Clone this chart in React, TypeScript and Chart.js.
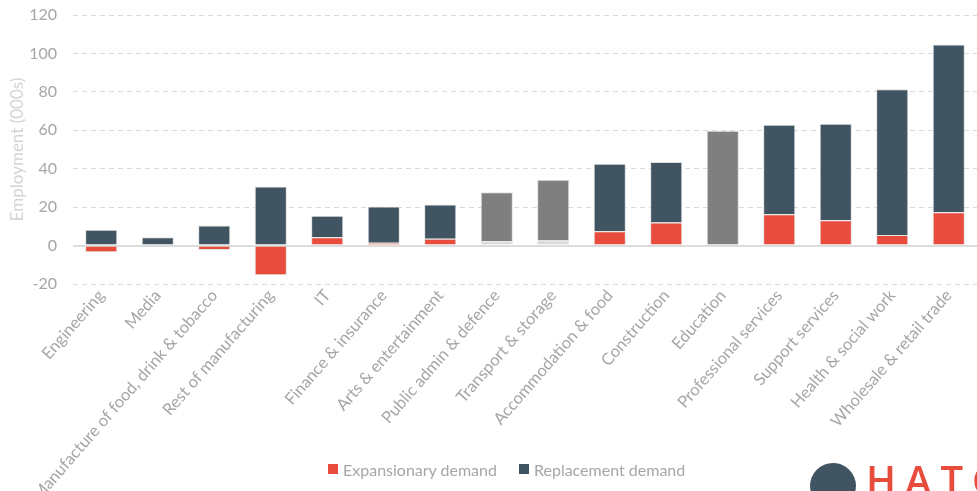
import React, { useEffect, useRef } from "react";
import { Chart, registerables } from "chart.js";

Chart.register(...registerables);

const categories = [
  "Engineering",
  "Media",
  "Manufacture of food, drink & tobacco",
  "Rest of manufacturing",
  "IT",
  "Finance & insurance",
  "Arts & entertainment",
  "Public admin & defence",
  "Transport & storage",
  "Accommodation & food",
  "Construction",
  "Education",
  "Professional services",
  "Support services",
  "Health & social work",
  "Wholesale & retail trade",
];

const expansionary = [-3.5, 0.5, -2.3, -15.5, 4.3, 1.5, 3.5, 2.3, 2.6, 7.5, 12.0, 0.5, 16.3, 13.2, 5.5, 17.4];
const replacement = [8.2, 3.8, 10.4, 30.8, 11.2, 18.8, 17.9, 25.5, 31.7, 35.1, 31.5, 59.3, 46.6, 50.2, 75.9, 87.2];
const greyed = ["Public admin & defence", "Transport & storage", "Education"];

const yTicks = [-20, 0, 20, 40, 60, 80, 100, 120];

const RED = "#e84c3d";
const SLATE = "#415462";
const GREY = "#7f7f7f";
const LIGHTGREY = "#d9d9d9";
const FONT = "Lato";

export default function App() {
  const ref = useRef<HTMLCanvasElement>(null);

  useEffect(() => {
    if (!ref.current) return;
    const isGrey = (i: number) => greyed.includes(categories[i]);
    const chart = new Chart(ref.current, {
      type: "bar",
      data: {
        labels: categories,
        datasets: [
          {
            label: "Expansionary demand",
            data: expansionary,
            backgroundColor: categories.map((_, i) => (isGrey(i) ? LIGHTGREY : RED)),
            borderColor: "rgba(225,225,225,1)",
            borderWidth: 1,
            barPercentage: 0.57,
            categoryPercentage: 1,
          },
          {
            label: "Replacement demand",
            data: replacement,
            backgroundColor: categories.map((_, i) => (isGrey(i) ? GREY : SLATE)),
            borderColor: "rgba(225,225,225,1)",
            borderWidth: 1,
            barPercentage: 0.57,
            categoryPercentage: 1,
          },
        ],
      },
      options: {
        responsive: true,
        maintainAspectRatio: false,
        animation: false,
        layout: { padding: { top: 15, right: 0, left: 0, bottom: 0 } },
        plugins: {
          legend: { display: false },
          tooltip: { enabled: false },
        },
        scales: {
          x: {
            stacked: true,
            grid: { display: false, drawTicks: false },
            border: { display: false },
            ticks: {
              color: "#a6a6a6",
              font: { family: FONT, size: 16.5 },
              minRotation: 49,
              maxRotation: 49,
              autoSkip: false,
              padding: 2,
            },
            afterFit: (scale: any) => {
              scale.height = 207;
            },
          },
          y: {
            stacked: true,
            min: -20,
            max: 120,
            afterBuildTicks: (scale: any) => {
              scale.ticks = yTicks.map((v) => ({ value: v }));
            },
            grid: {
              drawTicks: true,
              tickLength: 16,
              tickColor: "rgba(0,0,0,0)",
              color: (ctx: any) => (ctx.tick && ctx.tick.value === 0 ? "#dcdcdc" : "#d9d9d9"),
              lineWidth: (ctx: any) => (ctx.tick && ctx.tick.value === 0 ? 2 : 1),
            },
            border: {
              display: false,
              dash: (ctx: any) => (ctx.tick && ctx.tick.value === 0 ? [] : [5, 4]),
            },
            ticks: {
              color: "#a6a6a6",
              font: { family: FONT, size: 16 },
              padding: 0,
            },
            title: {
              display: true,
              text: "Employment (000s)",
              color: "#d4d4d4",
              font: { family: FONT, size: 17 },
              padding: { top: 7, bottom: 0 },
            },
            afterFit: (scale: any) => {
              scale.width = 73;
            },
          },
        },
      },
    });
    return () => chart.destroy();
  }, []);

  const legendItem = (color: string, text: string) => (
    <span style={{ display: "inline-flex", alignItems: "center", marginRight: 22 }}>
      <span style={{ width: 10, height: 10, background: color, display: "inline-block", marginRight: 5 }} />
      <span>{text}</span>
    </span>
  );

  return (
    <div style={{ position: "absolute", left: 0, top: 0, width: 977, height: 491, overflow: "hidden", background: "#fff" }}>
      <canvas ref={ref} />
      <div
        style={{
          position: "absolute",
          left: 328,
          top: 458,
          fontFamily: FONT,
          fontSize: 16,
          color: "#a6a6a6",
          whiteSpace: "nowrap",
        }}
      >
        {legendItem(RED, "Expansionary demand")}
        {legendItem(SLATE, "Replacement demand")}
      </div>
      <div style={{ position: "absolute", left: 810, top: 463, width: 46, height: 46, borderRadius: "50%", background: SLATE }} />
      <div
        style={{
          position: "absolute",
          left: 866,
          top: 452,
          fontFamily: "Open Sans",
          fontSize: 40,
          fontWeight: 600,
          color: RED,
          letterSpacing: 9,
          whiteSpace: "nowrap",
        }}
      >
        HATC
      </div>
    </div>
  );
}
